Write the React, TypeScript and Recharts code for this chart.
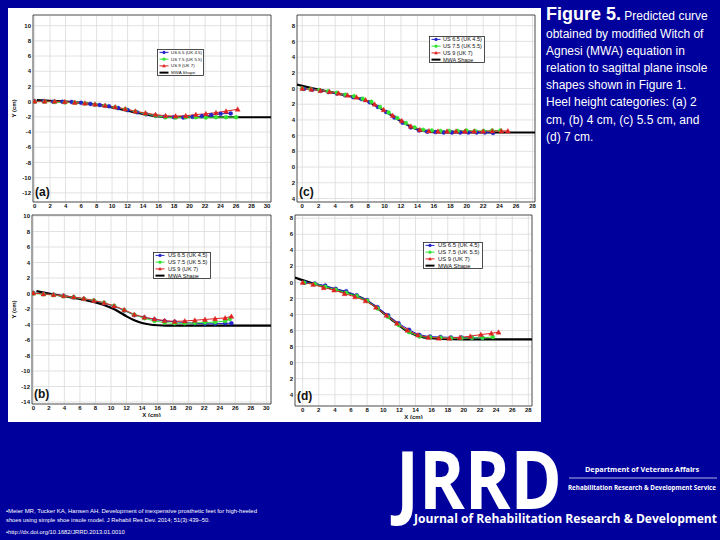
import React from "react";
import { LineChart, Line, XAxis, YAxis, CartesianGrid, ReferenceArea } from "recharts";

const FONT = "'Liberation Sans', Arial, Helvetica, sans-serif";
const LOGO_FONT = "'Open Sans', Arial, sans-serif";
const SLIDE_BG = "#00009c";
const BLUE = "#2424c8";
const GREEN = "#33e433";
const RED = "#de2222";

const seriesNames = ["US 6.5 (UK 4.5)", "US 7.5 (UK 5.5)", "US 9 (UK 7)", "MWA Shape"];

// tick labels
const xTicks30 = [0, 2, 4, 6, 8, 10, 12, 14, 16, 18, 20, 22, 24, 26, 28, 30];
const xTicks28 = [0, 2, 4, 6, 8, 10, 12, 14, 16, 18, 20, 22, 24, 26, 28];
const yTicksA = [-12, -10, -8, -6, -4, -2, 0, 2, 4, 6, 8, 10];
const yTicksB = [-14, -12, -10, -8, -6, -4, -2, 0, 2, 4, 6, 8, 10];
const yTicksCD = [-14, -12, -10, -8, -6, -4, -2, 0, 2, 4, 6, 8];

// (a) heel height 2 cm
const mwaAX = [0.3, 2, 4, 6, 8, 9, 10, 11, 12, 13, 14, 15, 16, 17, 18, 20, 24, 28, 30.5];
const mwaAY = [0.2, 0.1, 0, -0.15, -0.4, -0.55, -0.75, -0.95, -1.2, -1.4, -1.6, -1.8, -1.95, -2.02, -2.05, -2.05, -2.05, -2.05, -2.05];
const a65X = [0, 1.2, 2.4, 3.6, 4.8, 6, 7.2, 8.4, 9.6, 10.8, 12, 13.2, 14.4, 15.6, 16.8, 18, 19.2, 20.4, 21.6, 22.8, 24, 25.3];
const a65Y = [0.05, 0.05, 0, 0, -0.05, -0.15, -0.3, -0.45, -0.6, -0.85, -1.1, -1.4, -1.65, -1.85, -2.0, -2.05, -2.1, -2.0, -1.9, -1.75, -1.6, -1.55];
const a75X = [0, 1.3, 2.6, 3.9, 5.2, 6.5, 7.8, 9.1, 10.4, 11.7, 13, 14.3, 15.6, 16.9, 18.2, 19.5, 20.8, 22.1, 23.4, 24.7, 26];
const a75Y = [0, 0, -0.05, -0.1, -0.15, -0.25, -0.4, -0.55, -0.75, -1.0, -1.3, -1.6, -1.85, -2.05, -2.1, -2.05, -2.05, -2.1, -2.05, -2.05, -2.05];
const a9X = [0, 1.3, 2.6, 3.9, 5.2, 6.5, 7.8, 9.1, 10.4, 11.7, 13, 14.3, 15.6, 16.9, 18.2, 19.5, 20.8, 22.1, 23.4, 24.7, 26.2];
const a9Y = [0.05, 0.05, 0.05, 0, -0.1, -0.2, -0.35, -0.5, -0.7, -0.95, -1.25, -1.5, -1.7, -1.85, -1.9, -1.85, -1.7, -1.6, -1.45, -1.25, -1.0];

// (b) heel height 4 cm
const mwaBX = [0.4, 2, 4, 6, 8, 9, 10, 11, 12, 13, 14, 15, 16, 17, 18, 22, 26, 30.6];
const mwaBY = [0.3, 0, -0.35, -0.7, -1.15, -1.45, -1.85, -2.35, -2.95, -3.45, -3.8, -4.0, -4.1, -4.15, -4.15, -4.15, -4.15, -4.15];
const b65X = [0, 1.3, 2.6, 3.9, 5.2, 6.5, 7.8, 9.1, 10.4, 11.7, 13, 14.3, 15.6, 16.9, 18.2, 19.5, 20.8, 22.1, 23.4, 24.7, 25.5];
const b65Y = [0.05, -0.05, -0.15, -0.3, -0.5, -0.7, -0.95, -1.25, -1.65, -2.2, -2.8, -3.1, -3.35, -3.55, -3.65, -3.75, -3.85, -3.9, -3.9, -3.85, -3.85];
const b75X = [0, 1.3, 2.6, 3.9, 5.2, 6.5, 7.8, 9.1, 10.4, 11.7, 13, 14.3, 15.6, 16.9, 18.2, 19.5, 20.8, 22.1, 23.4, 24.7, 25.3];
const b75Y = [0, -0.1, -0.2, -0.35, -0.5, -0.7, -0.9, -1.2, -1.6, -2.15, -2.75, -3.2, -3.55, -3.75, -3.85, -3.85, -3.8, -3.75, -3.7, -3.55, -3.3];
const b9X = [0, 1.3, 2.6, 3.9, 5.2, 6.5, 7.8, 9.1, 10.4, 11.7, 13, 14.3, 15.6, 16.9, 18.2, 19.5, 20.8, 22.1, 23.4, 24.7, 25.5];
const b9Y = [0.05, -0.05, -0.15, -0.3, -0.45, -0.65, -0.9, -1.2, -1.6, -2.1, -2.7, -3.05, -3.3, -3.5, -3.6, -3.55, -3.45, -3.35, -3.25, -3.15, -2.95];

// (c) heel height 5.5 cm
const mwaCX = [-0.64, 1, 3, 5, 7, 8, 9, 10, 11, 12, 13, 14, 15, 16, 18, 22, 26, 28.3];
const mwaCY = [0.5, 0.1, -0.35, -0.8, -1.3, -1.65, -2.2, -2.85, -3.5, -4.15, -4.75, -5.2, -5.45, -5.55, -5.6, -5.6, -5.6, -5.6];
const c65X = [0.2, 1.2, 2.2, 3.2, 4.2, 5.2, 6.2, 7.2, 8.2, 9.2, 10.2, 11.2, 12.2, 13.2, 14.2, 15.2, 16.2, 17.2, 18.2, 19.2, 20.2, 21.2, 22.2, 23.2];
const c65Y = [-0.05, -0.15, -0.3, -0.45, -0.65, -0.85, -1.1, -1.35, -1.75, -2.35, -3.0, -3.7, -4.35, -4.95, -5.35, -5.5, -5.55, -5.6, -5.6, -5.6, -5.6, -5.6, -5.6, -5.65];
const c75X = [0, 1.05, 2.1, 3.15, 4.2, 5.25, 6.3, 7.35, 8.4, 9.45, 10.5, 11.55, 12.6, 13.65, 14.7, 15.75, 16.8, 17.85, 18.9, 19.95, 21, 22.05, 23.1, 24.1];
const c75Y = [0, -0.1, -0.2, -0.35, -0.55, -0.8, -1.0, -1.3, -1.7, -2.35, -3.05, -3.75, -4.4, -4.95, -5.25, -5.35, -5.4, -5.4, -5.4, -5.35, -5.4, -5.4, -5.35, -5.35];
const c9X = [0, 1.1, 2.2, 3.3, 4.4, 5.5, 6.6, 7.7, 8.8, 9.9, 11, 12.1, 13.2, 14.3, 15.4, 16.5, 17.6, 18.7, 19.8, 20.9, 22, 23.1, 24.2, 25];
const c9Y = [0, -0.1, -0.25, -0.4, -0.6, -0.85, -1.1, -1.45, -2.0, -2.7, -3.45, -4.1, -4.8, -5.25, -5.4, -5.45, -5.45, -5.45, -5.45, -5.45, -5.45, -5.4, -5.4, -5.4];

// (d) heel height 7 cm
const mwaDX = [-0.95, 1, 3, 5, 7, 8, 9, 10, 11, 12, 13, 14, 15, 16, 17, 20, 24, 28.45];
const mwaDY = [0.6, -0.05, -0.6, -1.15, -1.8, -2.3, -3.0, -3.8, -4.6, -5.4, -6.1, -6.55, -6.85, -6.95, -7.05, -7.1, -7.1, -7.1];
const d65X = [0.3, 1.5, 2.8, 4.1, 5.4, 6.7, 8, 9.3, 10.6, 11.9, 13.2, 14.5, 15.8, 17.1, 18.4, 19.7, 21, 22.3];
const d65Y = [0, -0.15, -0.4, -0.8, -1.1, -1.6, -2.2, -3.1, -4.1, -5.1, -5.9, -6.55, -6.75, -6.8, -6.85, -6.85, -6.9, -6.9];
const d75X = [0.2, 1.5, 2.8, 4.1, 5.4, 6.7, 8, 9.3, 10.6, 11.9, 13.2, 14.5, 15.8, 17.1, 18.4, 19.7, 21, 22.3, 23.6];
const d75Y = [-0.05, -0.2, -0.55, -0.9, -1.3, -1.7, -2.3, -3.25, -4.3, -5.3, -6.2, -6.75, -6.85, -6.9, -6.95, -6.95, -6.9, -6.9, -6.8];
const d9X = [0, 1.3, 2.6, 3.9, 5.2, 6.5, 7.8, 9.1, 10.4, 11.7, 13, 14.3, 15.6, 16.9, 18.2, 19.5, 20.8, 22.1, 23.4, 24.3];
const d9Y = [0, -0.25, -0.65, -0.95, -1.4, -1.8, -2.3, -3.1, -4.1, -5.1, -5.95, -6.55, -6.85, -6.95, -6.95, -6.85, -6.7, -6.5, -6.35, -6.2];

const toPts = (xs: number[], ys: number[]) => xs.map((x, i) => ({ x, y: ys[i] }));

const caption = [
  "obtained by modified Witch of",
  "Agnesi (MWA) equation in",
  "relation to sagittal plane insole",
  "shapes shown in Figure 1.",
  "Heel height categories: (a) 2",
  "cm, (b) 4 cm, (c) 5.5 cm, and",
  "(d) 7 cm.",
];

const panels = [
  {
    tag: "(a)", L: 33, T: 15, R: 271, B: 202,
    xDomain: [-0.2, 30.5], yDomain: [-13.2, 11.4], xTicks: xTicks30, yTicks: yTicksA,
    cut: false, xLabel: false,
    mwa: toPts(mwaAX, mwaAY), s65: toPts(a65X, a65Y), s75: toPts(a75X, a75Y), s9: toPts(a9X, a9Y),
    leg: { x: 157, y: 49, w: 47, h: 27, fs: 4.4, tx: 14 },
  },
  {
    tag: "(c)", L: 297, T: 15, R: 535, B: 202,
    xDomain: [-0.64, 28.3], yDomain: [-14.45, 9.36], xTicks: xTicks28, yTicks: yTicksCD,
    cut: true, xLabel: false,
    mwa: toPts(mwaCX, mwaCY), s65: toPts(c65X, c65Y), s75: toPts(c75X, c75Y), s9: toPts(c9X, c9Y),
    leg: { x: 429, y: 36, w: 56, h: 27, fs: 5.5, tx: 14 },
  },
  {
    tag: "(b)", L: 32, T: 215, R: 271, B: 404,
    xDomain: [-0.17, 30.6], yDomain: [-14.26, 10.13], xTicks: xTicks30, yTicks: yTicksB,
    cut: false, xLabel: true,
    mwa: toPts(mwaBX, mwaBY), s65: toPts(b65X, b65Y), s75: toPts(b75X, b75Y), s9: toPts(b9X, b9Y),
    leg: { x: 153, y: 252, w: 58, h: 27, fs: 5.6, tx: 15 },
  },
  {
    tag: "(d)", L: 295, T: 215, R: 532, B: 406,
    xDomain: [-0.95, 28.45], yDomain: [-15.4, 8.4], xTicks: xTicks28, yTicks: yTicksCD,
    cut: true, xLabel: true,
    mwa: toPts(mwaDX, mwaDY), s65: toPts(d65X, d65Y), s75: toPts(d75X, d75Y), s9: toPts(d9X, d9Y),
    leg: { x: 423, y: 242, w: 60, h: 27, fs: 5.9, tx: 15 },
  },
];

const Tri = (props: any) => {
  const { cx, cy, index } = props;
  if (cx == null || cy == null) return <g key={`t${index}`} />;
  const s = 2.5;
  return (
    <path
      key={`t${index}`}
      d={`M${cx},${cy - s}L${cx + s},${cy + s * 0.8}L${cx - s},${cy + s * 0.8}Z`}
      fill={RED}
      stroke={RED}
      strokeWidth={0.4}
    />
  );
};

const tickStyle = { fontSize: 6, fontWeight: 700, fill: "#111", fontFamily: FONT };

function MiniLegend({ leg }: any) {
  const rowH = leg.h / 4;
  const colors = [BLUE, GREEN, RED, "#000"];
  return (
    <svg style={{ position: "absolute", left: leg.x, top: leg.y }} width={leg.w} height={leg.h}>
      <rect x={0.5} y={0.5} width={leg.w - 1} height={leg.h - 1} fill="#fff" stroke="#222" strokeWidth={0.8} />
      {seriesNames.map((name, i) => {
        const cy = rowH * (i + 0.5);
        const c = colors[i];
        return (
          <g key={name}>
            <line x1={2.5} x2={11.5} y1={cy} y2={cy} stroke={c} strokeWidth={i === 3 ? 2 : 1} />
            {i === 0 || i === 1 ? <circle cx={7} cy={cy} r={1.6} fill={c} /> : null}
            {i === 2 ? <path d={`M7,${cy - 1.9}L8.9,${cy + 1.4}L5.1,${cy + 1.4}Z`} fill={c} /> : null}
            <text x={leg.tx} y={cy + leg.fs * 0.35} fontSize={leg.fs} fontFamily={FONT} fill="#111">
              {name}
            </text>
          </g>
        );
      })}
    </svg>
  );
}

const PAD = 6;

function Plot({ p }: any) {
  const yw = p.cut ? 10 : p.L - 8;
  const xh = p.xLabel ? 13 : 10;
  const width = p.R - p.L + yw + PAD;
  const height = p.B - p.T + xh + PAD;
  const fmt = (v: number) => (p.cut ? String(Math.abs(v) % 10) : String(v));
  return (
    <div style={{ position: "absolute", left: p.L - yw, top: p.T - PAD }}>
      <LineChart width={width} height={height} margin={{ top: PAD, right: PAD, bottom: 0, left: 0 }}>
        <CartesianGrid stroke="#dadada" strokeWidth={0.8} />
        <XAxis
          type="number"
          dataKey="x"
          domain={p.xDomain}
          ticks={p.xTicks}
          interval={0}
          allowDataOverflow
          axisLine={false}
          tickLine={false}
          tickSize={0}
          tickMargin={2}
          height={xh}
          tick={tickStyle}
          label={
            p.xLabel
              ? { value: "X (cm)", position: "insideBottom", offset: 0, fontSize: 6, fontWeight: 700, fill: "#111", fontFamily: FONT }
              : undefined
          }
        />
        <YAxis
          type="number"
          dataKey="y"
          domain={p.yDomain}
          ticks={p.yTicks}
          interval={0}
          allowDataOverflow
          axisLine={false}
          tickLine={false}
          tickSize={0}
          tickMargin={2}
          width={yw}
          tick={tickStyle}
          tickFormatter={fmt}
          label={
            p.cut
              ? undefined
              : {
                  value: "Y (cm)",
                  angle: -90,
                  position: "insideLeft",
                  offset: 6,
                  fontSize: 6,
                  fontWeight: 700,
                  fill: "#111",
                  fontFamily: FONT,
                  style: { textAnchor: "middle" },
                }
          }
        />
        <ReferenceArea
          x1={p.xDomain[0]}
          x2={p.xDomain[1]}
          y1={p.yDomain[0]}
          y2={p.yDomain[1]}
          fill="none"
          fillOpacity={0}
          stroke="#333"
          strokeWidth={0.8}
          ifOverflow="visible"
        />
        <Line data={p.mwa} dataKey="y" type="monotone" stroke="#000" strokeWidth={2.2} dot={false} isAnimationActive={false} />
        <Line
          data={p.s65}
          dataKey="y"
          stroke={BLUE}
          strokeWidth={1}
          dot={{ r: 2, fill: BLUE, stroke: BLUE, strokeWidth: 0.4 }}
          isAnimationActive={false}
        />
        <Line
          data={p.s75}
          dataKey="y"
          stroke={GREEN}
          strokeWidth={1}
          dot={{ r: 2, fill: GREEN, stroke: GREEN, strokeWidth: 0.4 }}
          isAnimationActive={false}
        />
        <Line data={p.s9} dataKey="y" stroke={RED} strokeWidth={1} dot={<Tri />} isAnimationActive={false} />
      </LineChart>
      <div style={{ position: "absolute", left: -(p.L - yw), top: -(p.T - PAD) }}>
        <MiniLegend leg={p.leg} />
      </div>
    </div>
  );
}

export default function App() {
  return (
    <div style={{ position: "absolute", left: 0, top: 0, width: 720, height: 540, background: SLIDE_BG, overflow: "hidden" }}>
      <div style={{ position: "absolute", left: 8, top: 8, width: 533, height: 414, background: "#fff" }} />
      {panels.map((p) => (
        <Plot key={p.tag} p={p} />
      ))}
      <svg style={{ position: "absolute", left: 0, top: 0, pointerEvents: "none" }} width={720} height={540}>
        {panels.map((p) => (
          <text key={p.tag} x={p.L + 2} y={p.B - 6} fontSize={12} fontWeight={700} fontFamily={FONT} fill="#111">
            {p.tag}
          </text>
        ))}
        <text x={546} y={20} fill="#fff" fontFamily={FONT}>
          <tspan fontSize={18} fontWeight={700}>Figure 5.</tspan>
          <tspan fontSize={12}> Predicted curve</tspan>
        </text>
        {caption.map((line, i) => (
          <text key={line} x={546} y={38 + i * 17.1} fill="#fff" fontSize={12} fontFamily={FONT}>
            {line}
          </text>
        ))}
        <text x={6} y={513} fill="#fff" fontSize={5.8} fontFamily={FONT} textLength={251} lengthAdjust="spacingAndGlyphs">
          •Meier MR, Tucker KA, Hansen AH. Development of inexpensive prosthetic feet for high-heeled
        </text>
        <text x={6} y={522} fill="#fff" fontSize={5.8} fontFamily={FONT}>
          shoes using simple shoe insole model. J Rehabil Res Dev. 2014; 51(3):439–50.
        </text>
        <text x={6} y={534} fill="#fff" fontSize={5.8} fontFamily={FONT}>
          •http://dx.doi.org/10.1682/JRRD.2013.01.0010
        </text>
        <text
          x={396}
          y={509}
          fill="#fff"
          fontSize={80}
          fontWeight={700}
          fontFamily={LOGO_FONT}
          textLength={166}
          lengthAdjust="spacingAndGlyphs"
        >
          JRRD
        </text>
        <text x={585} y={472} fill="#fff" fontSize={7.5} fontWeight={700} fontFamily={LOGO_FONT} textLength={114} lengthAdjust="spacingAndGlyphs">
          Department of Veterans Affairs
        </text>
        <line x1={569} x2={717} y1={478} y2={478} stroke="#fff" strokeWidth={0.7} />
        <text x={568} y={490} fill="#fff" fontSize={6.8} fontWeight={700} fontFamily={LOGO_FONT} textLength={148} lengthAdjust="spacingAndGlyphs">
          Rehabilitation Research &amp; Development Service
        </text>
        <text x={414} y={523} fill="#fff" fontSize={12.5} fontWeight={700} fontFamily={LOGO_FONT} textLength={303} lengthAdjust="spacingAndGlyphs">
          Journal of Rehabilitation Research &amp; Development
        </text>
      </svg>
    </div>
  );
}
